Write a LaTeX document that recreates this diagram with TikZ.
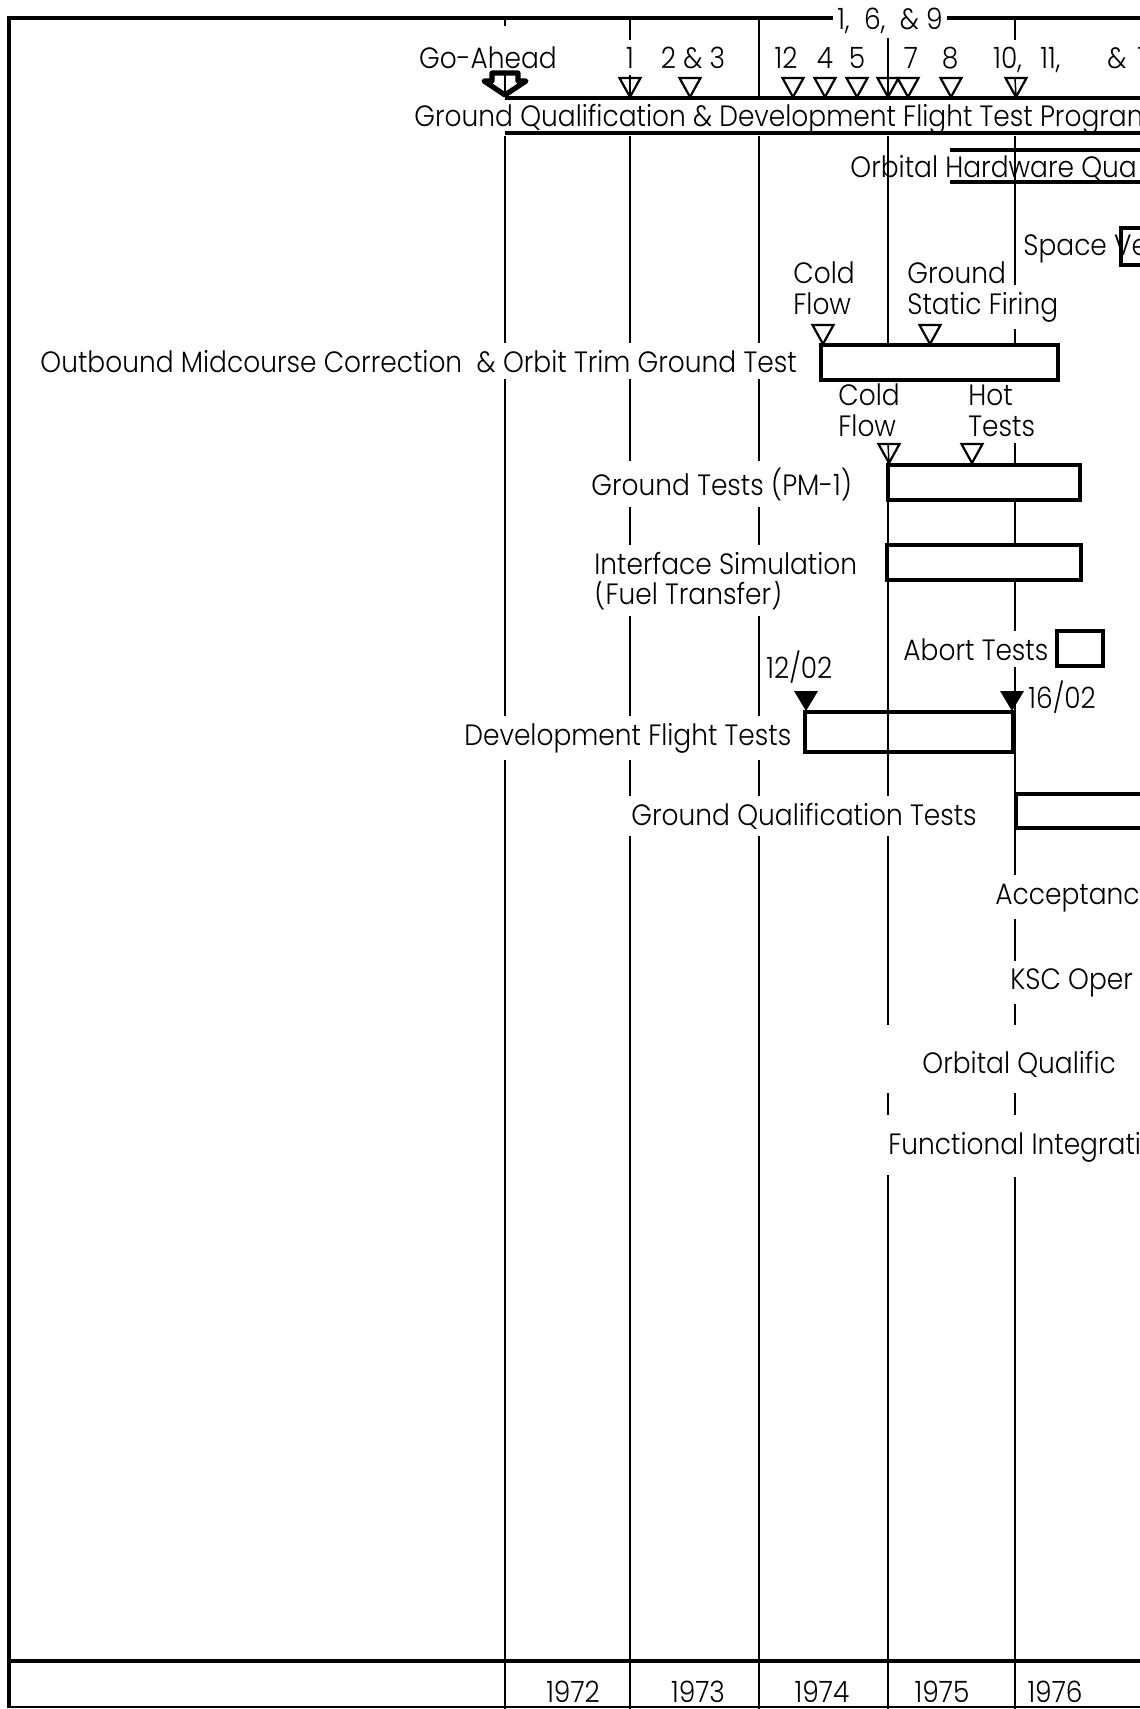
\documentclass[tikz,border=0pt]{standalone}
\usepackage{fontspec}
\IfFontExistsTF{Poppins Light}
  {\newfontfamily\chartfont{Poppins Light}[FakeStretch=0.9]}
  {\newfontfamily\chartfont{Poppins}[FakeStretch=0.9]}
\newcommand\cf{\chartfont\fontsize{14.7}{16}\selectfont}
\begin{document}
\begin{tikzpicture}[x=0.5pt,y=-0.5pt,
  lbl/.style={font=\cf, inner xsep=2pt, inner ysep=3.5pt, fill=white, anchor=base west},
  lblc/.style={lbl, anchor=base},
  lblnf/.style={font=\cf, inner xsep=2pt, inner ysep=2pt, anchor=base west},
  gridline/.style={line width=0.75pt},
  frame/.style={line width=2.25pt},
  barbox/.style={line width=2pt, line join=miter},
  bandline/.style={line width=1.8pt},
  opentri/.style={line width=1.1pt, line join=miter, fill=white}]
\useasboundingbox (0,0) rectangle (1140,1709);
\clip (0,0) rectangle (1140,1709);
\fill[white] (0,0) rectangle (1140,1709);

% ---------- frame ----------
\draw[frame] (9,18) -- (1150,18);
\draw[frame] (9,16) -- (9,1708);
\draw[line width=2pt] (9,1661) -- (1150,1661);
\draw[line width=0.9pt] (9,1707) -- (1150,1707);

% ---------- grid (year) lines ----------
\foreach \gx in {505,630,759} \draw[gridline] (\gx,133) -- (\gx,1709);
\draw[gridline] (888,133) -- (888,1025) (888,1093) -- (888,1115) (888,1175) -- (888,1709);
\draw[gridline] (1015,133) -- (1015,875) (1015,915) -- (1015,962) (1015,998) -- (1015,1025) (1015,1093) -- (1015,1115) (1015,1177) -- (1015,1709);

% top milestone lines
\draw[gridline] (505,18) -- (505,26);
\draw[gridline] (630,18) -- (630,97);
\draw[gridline] (759,18) -- (759,98);
\draw[gridline] (888,38) -- (888,97);
\draw[gridline] (1015,18) -- (1015,97);

% ---------- labels ----------
\node[lblc] (goahead) at (488,68) {Go-Ahead};
\node[lblc] (n1) at (630,68) {1};
\node[lblc] (n23) at (693,68) {2 \& 3};
\node[lblc] (n12) at (786,68) {12};
\node[lblc] (n4) at (825,68) {4};
\node[lblc] (n5) at (857,68) {5};
\node[lblc] (n7) at (911,68) {7};
\node[lblc] (n8) at (950,68) {8};
\node[lbl] (n10) at (989,68) {10,};
\node[lbl] (n11) at (1036,68) {11,};
\node[lbl] (namp) at (1103,68) {\&};
\node[lbl] (nlast) at (1133,68) {1};
\node[lblc, inner xsep=2pt, inner ysep=1pt] (n169) at (890,29) {1,\ \ 6,\ \ \&\ 9};

\node[lbl, inner ysep=1pt] (band) at (410,126) {Ground Qualification \& Development Flight Test Program};
\node[lblnf] (ohq) at (846,177) {Orbital Hardware Qua};
\node[lbl] (sve) at (1019,255) {Space Ve};

\node[lbl] (cf1b) at (789,314) {Flow};
\node[lbl] (cf1a) at (789,283) {Cold};
\node[lbl] (gsfb) at (903,314) {Static Firing};
\node[lbl] (gsfa) at (903,283) {Ground};
\node[lbl] (outb) at (36,372) {Outbound Midcourse Correction\ \ \& Orbit Trim Ground Test};

\node[lbl] (cf2b) at (834,436) {Flow};
\node[lbl] (cf2a) at (834,405) {Cold};
\node[lbl] (htb) at (964,436) {Tests};
\node[lbl] (hta) at (964,405) {Hot};
\node[lbl] (pm1) at (587,495) {Ground Tests (PM-1)};

\node[lbl] (isb) at (590,604) {(Fuel Transfer)};
\node[lbl] (isa) at (590,574) {Interface Simulation};

\node[lbl] (abort) at (899,660) {Abort Tests};
\node[lbl] (d1202) at (762,678) {12/02};
\node[lbl] (d1602) at (1024,708) {16/02};
\node[lbl] (dft) at (460,745) {Development Flight Tests};
\node[lbl] (gqt) at (627,825) {Ground Qualification Tests};

\node[lbl] (acc) at (991,904) {Acceptance};
\node[lbl] (ksc) at (1006,989) {KSC Oper};
\node[lbl] (oq) at (918,1073) {Orbital Qualific};
\node[lbl] (fi) at (884,1154) {Functional Integrati};

\node[lblc, fill=none] (y72) at (573,1702) {1972};
\node[lblc, fill=none] (y73) at (698,1702) {1973};
\node[lblc, fill=none] (y74) at (822,1702) {1974};
\node[lblc, fill=none] (y75) at (942,1702) {1975};
\node[lblc, fill=none] (y76) at (1055,1702) {1976};

% ---------- band ----------
\draw[bandline] (505,98) -- (1150,98);
\draw[bandline] (505,133) -- (1150,133);

% Go-Ahead arrow
\coordinate (ga) at (505,95);
\draw[line width=2.6pt, line join=round, fill=white] (492,73) -- (518,73) -- (518,81) -- (526,81) -- (ga) -- (484,81) -- (492,81) -- cycle;
\draw[gridline] (505,73) -- (ga);

% open milestone triangles on band
\foreach \tx/\tn in {630/a,690/b,793/c,825/d,857/e,888/f,908/g,951/h,1016/i}{
  \coordinate (m\tn) at (\tx,97);
  \draw[opentri] (m\tn) -- ++(-10.5,-19) -- ++(21,0) -- cycle;
}
\draw[gridline] (630,78) -- (ma);
\draw[gridline] (888,78) -- (mf);
\draw[gridline] (1015,78) -- (mi);

% Orbital hardware bar
\draw[bandline] (950,150) -- (1150,150);
\draw[bandline] (950,182) -- (1150,182);

% Space Ve bar
\draw[barbox] (1150,228) -- (1121,228) -- (1121,265) -- (1150,265);

% Outbound ground test bar
\draw[barbox, fill=white] (821,345) rectangle (1058,380);
\coordinate (t1) at (823,344);
\coordinate (t2) at (930,344);
\draw[opentri] (t1) -- ++(-10.5,-19) -- ++(21,0) -- cycle;
\draw[opentri] (t2) -- ++(-10.5,-19) -- ++(21,0) -- cycle;

% PM-1 bar
\draw[barbox, fill=white] (888,465) rectangle (1080,500);
\coordinate (t3) at (889,463);
\coordinate (t4) at (972,463);
\draw[opentri] (t3) -- ++(-10.5,-19) -- ++(21,0) -- cycle;
\draw[gridline] (888,444) -- (t3);
\draw[opentri] (t4) -- ++(-10.5,-19) -- ++(21,0) -- cycle;

% Interface simulation bar
\draw[barbox, fill=white] (887,545) rectangle (1081,580);

% Abort tests bar
\draw[barbox, fill=white] (1057,631) rectangle (1103,666);

% Development flight tests bar
\draw[barbox] (805,712) rectangle (1013,752);
\coordinate (t5) at (806,711);
\coordinate (t6) at (1012,711);
\fill (t5) -- ++(-12,-20) -- ++(24,0) -- cycle;
\fill (t6) -- ++(-12,-20) -- ++(24,0) -- cycle;

% Ground qualification tests bar
\draw[barbox, fill=white] (1016,794) rectangle (1160,828);
\end{tikzpicture}
\end{document}
